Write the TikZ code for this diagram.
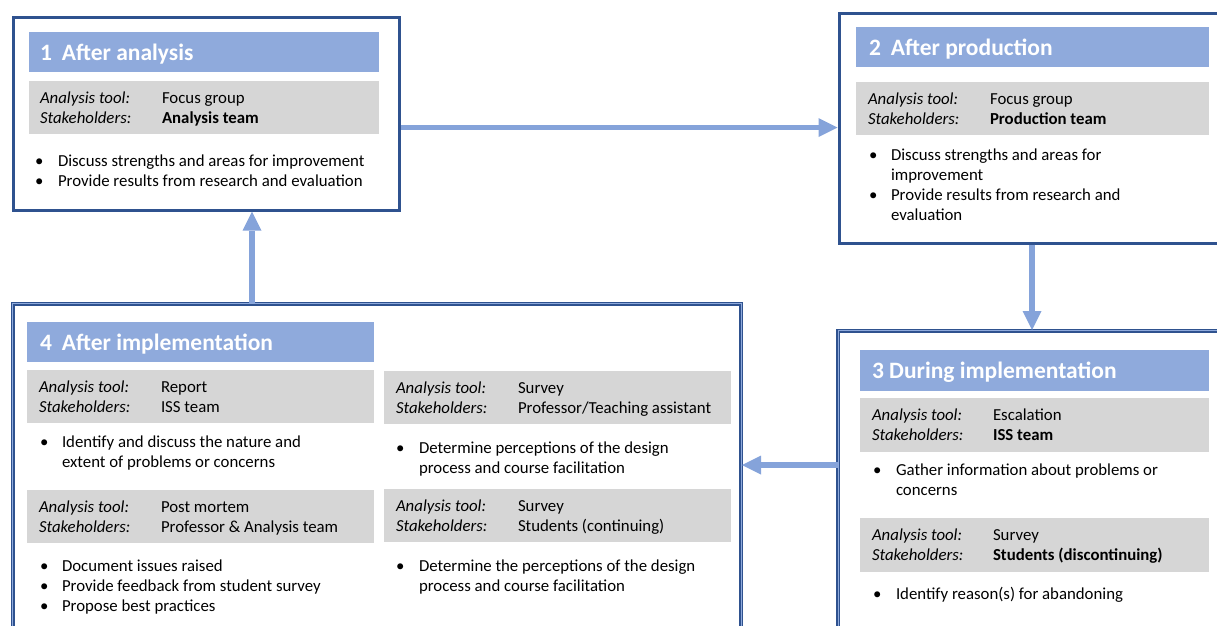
\documentclass[tikz,border=0pt]{standalone}
\usepackage{fontspec}
\setmainfont{Carlito}
\usepackage{tikz}
\usetikzlibrary{arrows.meta}

\begin{document}
\begin{tikzpicture}[x=1pt,y=-1pt,line cap=rect,
	frame/.style={rectangle, inner sep=0, anchor=north west, draw=custcol_2f_52_8f, line width=3pt},
	dframe/.style={rectangle, inner sep=0, anchor=north west, draw=custcol_2f_52_8f, line width=1.5pt, double=custcol_8f_aa_dc, double distance=1pt},
	titlebar/.style={rectangle, inner sep=0, anchor=north west, fill=custcol_8f_aa_dc},
	toolbar/.style={rectangle, inner sep=0, anchor=north west, fill=custcol_d6_d6_d6},
	lbl/.style={inner sep=0, outer sep=0, anchor=base west, font=\fontsize{16.8pt}{16.8pt}\selectfont},
	ilbl/.style={lbl, font=\fontsize{16.8pt}{16.8pt}\itshape\selectfont},
	ttl/.style={lbl, text=white, font=\fontsize{23.5pt}{23.5pt}\bfseries\selectfont},
	flow/.style={draw=custcol_85_a3_da, line width=5.5pt, line cap=butt, -{Triangle[length=19pt,width=19pt,line width=0pt]}}]
						\definecolor{custcol_2f_52_8f}{RGB}{47, 82, 143}
						\definecolor{custcol_8f_aa_dc}{RGB}{143, 170, 220}
						\definecolor{custcol_85_a3_da}{RGB}{133, 163, 218}
						\definecolor{custcol_d6_d6_d6}{RGB}{214, 214, 214}
						\useasboundingbox (0,0) rectangle (1217,625);
						\clip (0,0) rectangle (1217,625);
						% 1 after analysis
						\node[frame, minimum width=386pt, minimum height=192.5pt] (box1) at (11.5,16) {};
						\node[titlebar, minimum width=350pt, minimum height=40pt] (bar1) at (29,32) {};
						\node[ttl] (ttl1) at (40,60) {1\hspace{10pt}After analysis};
						\node[toolbar, minimum width=350pt, minimum height=53pt] (tb1) at (29,81) {};
						\node[ilbl] (tl1) at (40,103) {Analysis tool:};
						\node[lbl] (tv1) at (162,103) {Focus group};
						\node[ilbl] (sl1) at (40,123) {Stakeholders:};
						\node[lbl] (sv1) at (162,123) {\bfseries Analysis team};
						\node[lbl] (bu1a) at (35,166) {\textbullet};
						\node[lbl] (tx1a) at (58,166) {Discuss strengths and areas for improvement};
						\node[lbl] (bu1b) at (35,186) {\textbullet};
						\node[lbl] (tx1b) at (58,186) {Provide results from research and evaluation};
						% 2 after production
						\node[frame, minimum width=400pt, minimum height=230pt] (box2) at (837.5,11.5) {};
						\node[titlebar, minimum width=353pt, minimum height=40pt] (bar2) at (856,27) {};
						\node[ttl] (ttl2) at (869,55) {2\hspace{10pt}After production};
						\node[toolbar, minimum width=353pt, minimum height=53pt] (tb2) at (856,82) {};
						\node[ilbl] (tl2) at (868,104) {Analysis tool:};
						\node[lbl] (tv2) at (990,104) {Focus group};
						\node[ilbl] (sl2) at (868,124) {Stakeholders:};
						\node[lbl] (sv2) at (990,124) {\bfseries Production team};
						\node[lbl] (bu2a) at (869,160) {\textbullet};
						\node[lbl] (tx2a) at (891,160) {Discuss strengths and areas for};
						\node[lbl] (tx2b) at (891,180) {improvement};
						\node[lbl] (bu2c) at (869,200) {\textbullet};
						\node[lbl] (tx2c) at (891,200) {Provide results from research and};
						\node[lbl] (tx2d) at (891,220) {evaluation};
						% 3 during implementation
						\node[dframe, minimum width=400pt, minimum height=320pt] (box3) at (837.5,330) {};
						\node[titlebar, minimum width=349pt, minimum height=41pt] (bar3) at (860,350) {};
						\node[ttl] (ttl3) at (872,378) {3 During implementation};
						\node[toolbar, minimum width=349pt, minimum height=54pt] (tb3a) at (860,398) {};
						\node[ilbl] (tl3a) at (872,420) {Analysis tool:};
						\node[lbl] (tv3a) at (993,420) {Escalation};
						\node[ilbl] (sl3a) at (872,440) {Stakeholders:};
						\node[lbl] (sv3a) at (993,440) {\bfseries ISS team};
						\node[lbl] (bu3a) at (873,475) {\textbullet};
						\node[lbl] (tx3a) at (896,475) {Gather information about problems or};
						\node[lbl] (tx3b) at (896,495) {concerns};
						\node[toolbar, minimum width=349pt, minimum height=54pt] (tb3b) at (860,518) {};
						\node[ilbl] (tl3b) at (872,540) {Analysis tool:};
						\node[lbl] (tv3b) at (993,540) {Survey};
						\node[ilbl] (sl3b) at (872,560) {Stakeholders:};
						\node[lbl] (sv3b) at (993,560) {\bfseries Students (discontinuing)};
						\node[lbl] (bu3c) at (873,599) {\textbullet};
						\node[lbl] (tx3c) at (896,599) {Identify reason(s) for abandoning};
						% 4 after implementation
						\node[dframe, minimum width=728.5pt, minimum height=340pt] (box4) at (12,303) {};
						\node[titlebar, minimum width=347pt, minimum height=40pt] (bar4) at (27,322) {};
						\node[ttl] (ttl4) at (40,350) {4\hspace{10pt}After implementation};
						\node[toolbar, minimum width=347pt, minimum height=53pt] (tb4a) at (27,370) {};
						\node[ilbl] (tl4a) at (39,392) {Analysis tool:};
						\node[lbl] (tv4a) at (161,392) {Report};
						\node[ilbl] (sl4a) at (39,412) {Stakeholders:};
						\node[lbl] (sv4a) at (161,412) {ISS team};
						\node[lbl] (bu4a) at (40,447) {\textbullet};
						\node[lbl] (tx4a) at (62,447) {Identify and discuss the nature and};
						\node[lbl] (tx4b) at (62,467) {extent of problems or concerns};
						\node[toolbar, minimum width=347pt, minimum height=53pt] (tb4b) at (27,490) {};
						\node[ilbl] (tl4b) at (39,512) {Analysis tool:};
						\node[lbl] (tv4b) at (161,512) {Post mortem};
						\node[ilbl] (sl4b) at (39,532) {Stakeholders:};
						\node[lbl] (sv4b) at (161,532) {Professor \& Analysis team};
						\node[lbl] (bu4c) at (40,571) {\textbullet};
						\node[lbl] (tx4c) at (62,571) {Document issues raised};
						\node[lbl] (bu4d) at (40,591) {\textbullet};
						\node[lbl] (tx4d) at (62,591) {Provide feedback from student survey};
						\node[lbl] (bu4e) at (40,611) {\textbullet};
						\node[lbl] (tx4e) at (62,611) {Propose best practices};
						\node[toolbar, minimum width=347pt, minimum height=53pt] (tb4c) at (384,371) {};
						\node[ilbl] (tl4c) at (396,393) {Analysis tool:};
						\node[lbl] (tv4c) at (518,393) {Survey};
						\node[ilbl] (sl4c) at (396,413) {Stakeholders:};
						\node[lbl] (sv4c) at (518,413) {Professor/Teaching assistant};
						\node[lbl] (bu4f) at (396,453) {\textbullet};
						\node[lbl] (tx4f) at (419,453) {Determine perceptions of the design};
						\node[lbl] (tx4g) at (419,473) {process and course facilitation};
						\node[toolbar, minimum width=347pt, minimum height=53pt] (tb4d) at (384,489) {};
						\node[ilbl] (tl4d) at (396,511) {Analysis tool:};
						\node[lbl] (tv4d) at (518,511) {Survey};
						\node[ilbl] (sl4d) at (396,531) {Stakeholders:};
						\node[lbl] (sv4d) at (518,531) {Students (continuing)};
						\node[lbl] (bu4h) at (396,571) {\textbullet};
						\node[lbl] (tx4h) at (419,571) {Determine the perceptions of the design};
						\node[lbl] (tx4i) at (419,591) {process and course facilitation};
						% cycle
						\draw[flow] (box1.east |- 0,127.5) -- (box2.west |- 0,127.5);
						\draw[flow] (box2.south -| 1032,0) -- (box3.north -| 1032,0);
						\draw[flow] (box3.west |- 0,465) -- (box4.east |- 0,465);
						\draw[flow] (box4.north -| 252,0) -- (box1.south -| 252,0);
					\end{tikzpicture}
\end{document}
